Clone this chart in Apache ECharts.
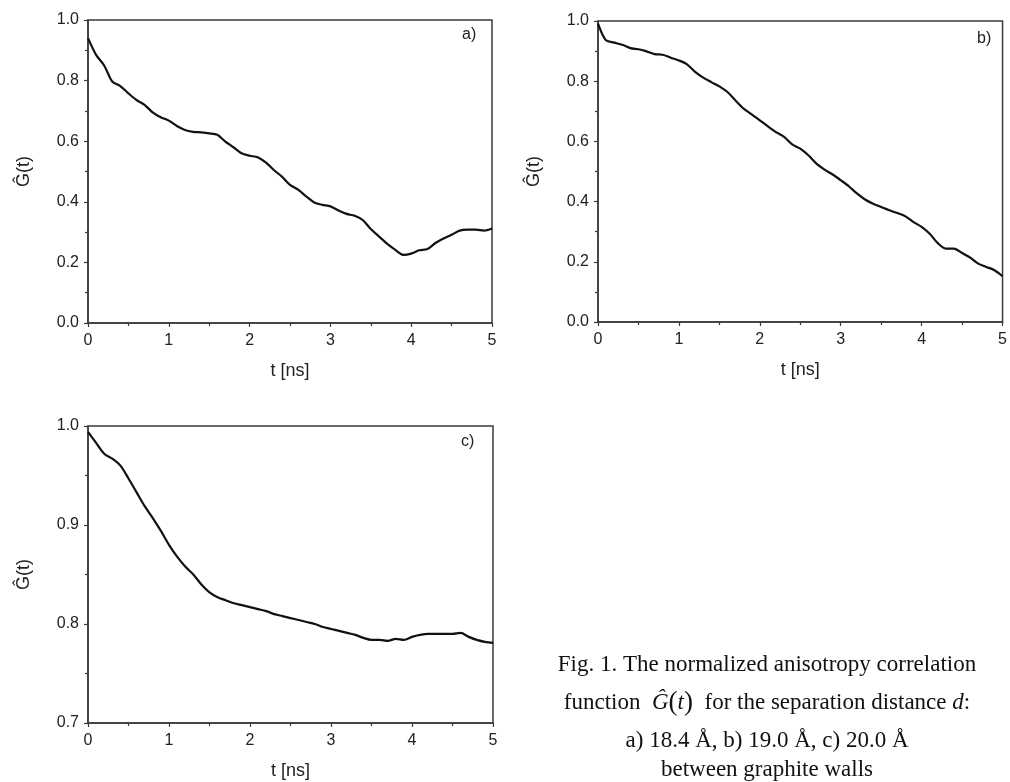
<!DOCTYPE html>
<html>
<head>
<meta charset="utf-8">
<script src="https://cdn.jsdelivr.net/npm/echarts@6/dist/echarts.min.js"></script>
<style>
  html, body { margin: 0; padding: 0; background: #fff; }
  #chart { width: 1010px; height: 782px; }
</style>
</head>
<body>
<div id="chart"></div>
<script>
// time grid in ns
const tA = [0, 0.1, 0.2, 0.3, 0.4, 0.5, 0.6, 0.7, 0.8, 0.9, 1.0, 1.1, 1.2, 1.3, 1.4, 1.5, 1.6, 1.7, 1.8, 1.9, 2.0,
  2.1, 2.2, 2.3, 2.4, 2.5, 2.6, 2.7, 2.8, 2.9, 3.0, 3.1, 3.2, 3.3, 3.4, 3.5, 3.6, 3.7, 3.8, 3.9, 4.0,
  4.1, 4.2, 4.3, 4.4, 4.5, 4.6, 4.7, 4.8, 4.9, 5.0]
const tB = [0, 0.05, 0.1, 0.2, 0.3, 0.4, 0.5, 0.6, 0.7, 0.8, 0.9, 1.0, 1.1, 1.2, 1.3, 1.4, 1.5, 1.6, 1.7, 1.8, 1.9, 2.0,
  2.1, 2.2, 2.3, 2.4, 2.5, 2.6, 2.7, 2.8, 2.9, 3.0, 3.1, 3.2, 3.3, 3.4, 3.5, 3.6, 3.7, 3.8, 3.9, 4.0,
  4.1, 4.2, 4.3, 4.4, 4.5, 4.6, 4.7, 4.8, 4.9, 5.0]

// a) d = 18.4 A
const gA = [0.940, 0.885, 0.850, 0.797, 0.782, 0.758, 0.736, 0.720, 0.695, 0.679, 0.668,
  0.650, 0.637, 0.631, 0.629, 0.626, 0.621, 0.599, 0.580, 0.560, 0.552,
  0.547, 0.530, 0.505, 0.483, 0.456, 0.440, 0.418, 0.398, 0.390, 0.385,
  0.371, 0.360, 0.354, 0.340, 0.310, 0.286, 0.262, 0.242, 0.225, 0.229,
  0.240, 0.244, 0.264, 0.279, 0.291, 0.305, 0.308, 0.308, 0.305, 0.312]

// b) d = 19.0 A
const gB = [0.991, 0.958, 0.936, 0.928, 0.921, 0.910, 0.906, 0.899, 0.890, 0.888, 0.878, 0.869,
  0.856, 0.831, 0.812, 0.797, 0.783, 0.764, 0.736, 0.709, 0.690, 0.670,
  0.650, 0.631, 0.615, 0.590, 0.576, 0.554, 0.526, 0.506, 0.490, 0.471,
  0.451, 0.427, 0.407, 0.393, 0.382, 0.371, 0.362, 0.351, 0.332, 0.316,
  0.293, 0.262, 0.244, 0.244, 0.229, 0.214, 0.194, 0.183, 0.172, 0.152]

// c) d = 20.0 A
const gC = [0.994, 0.983, 0.972, 0.967, 0.960, 0.947, 0.933, 0.919, 0.907, 0.894, 0.880,
  0.868, 0.858, 0.850, 0.840, 0.832, 0.827, 0.824, 0.821, 0.819, 0.817,
  0.815, 0.813, 0.810, 0.808, 0.806, 0.804, 0.802, 0.800, 0.797, 0.795,
  0.793, 0.791, 0.789, 0.786, 0.784, 0.784, 0.783, 0.785, 0.784, 0.787,
  0.789, 0.790, 0.790, 0.790, 0.790, 0.791, 0.787, 0.784, 0.782, 0.781]

const panelLabels = ['a)', 'b)', 'c)']
const yTitle = 'Ĝ(t)'
const xTitle = 't [ns]'

const chart = echarts.init(document.getElementById('chart'))

const axisColor = '#3a3a3a'
const sans = 'Liberation Sans, Arial, sans-serif'
const labelFont = { fontFamily: sans, fontSize: 16, color: '#222' }
const titleFont = { fontFamily: sans, fontSize: 18, color: '#222' }

function makeGrid(left, top, width, height) {
  return { left, top, width, height, show: true, borderColor: axisColor, borderWidth: 1.5, backgroundColor: 'transparent' }
}

function xAxisFor(idx) {
  return {
    type: 'value',
    gridIndex: idx,
    min: 0,
    max: 5,
    interval: 1,
    name: xTitle,
    nameLocation: 'middle',
    nameGap: 39,
    nameTextStyle: titleFont,
    axisLine: { show: true, onZero: false, lineStyle: { color: axisColor, width: 1.5 } },
    axisTick: { show: true, length: 4, lineStyle: { color: axisColor, width: 1.2 } },
    minorTick: { show: true, splitNumber: 2, length: 3, lineStyle: { color: axisColor, width: 1.2 } },
    axisLabel: { ...labelFont, margin: 10 },
    splitLine: { show: false },
  }
}

function yAxisFor(idx, min, max, interval) {
  return {
    type: 'value',
    gridIndex: idx,
    min,
    max,
    interval,
    name: yTitle,
    nameLocation: 'middle',
    nameRotate: 90,
    nameGap: 55,
    nameTextStyle: titleFont,
    axisLine: { show: true, onZero: false, lineStyle: { color: axisColor, width: 1.5 } },
    axisTick: { show: true, length: 4, lineStyle: { color: axisColor, width: 1.2 } },
    minorTick: { show: true, splitNumber: 2, length: 3, lineStyle: { color: axisColor, width: 1.2 } },
    axisLabel: { ...labelFont, margin: 9, formatter: (v) => v.toFixed(1) },
    splitLine: { show: false },
  }
}

function lineSeries(idx, ts, gs) {
  return {
    type: 'line',
    xAxisIndex: idx,
    yAxisIndex: idx,
    data: ts.map((t, i) => [t, gs[i]]),
    showSymbol: false,
    smooth: 0.3,
    lineStyle: { color: '#111', width: 2.2 },
    clip: true,
  }
}

const serif = 'Liberation Serif, Times New Roman, serif'
const capStyle = { fontFamily: serif, fontSize: 23, fill: '#111', align: 'center', verticalAlign: 'middle' }

const option = {
  backgroundColor: '#fff',
  animation: false,
  grid: [
    makeGrid(88, 20, 404, 303),
    makeGrid(598, 21, 407, 301),
    makeGrid(88, 426, 405, 297),
  ],
  xAxis: [xAxisFor(0), xAxisFor(1), xAxisFor(2)],
  yAxis: [
    yAxisFor(0, 0, 1, 0.2),
    yAxisFor(1, 0, 1, 0.2),
    yAxisFor(2, 0.7, 1.0, 0.1),
  ],
  series: [
    lineSeries(0, tA, gA),
    lineSeries(1, tB, gB),
    lineSeries(2, tA, gC),
  ],
  graphic: [
    { type: 'text', left: 462, top: 27, style: { text: panelLabels[0], font: '16px ' + sans, fill: '#222' } },
    { type: 'text', left: 977, top: 31, style: { text: panelLabels[1], font: '16px ' + sans, fill: '#222' } },
    { type: 'text', left: 461, top: 434, style: { text: panelLabels[2], font: '16px ' + sans, fill: '#222' } },
    {
      type: 'text', x: 767, y: 665,
      style: { text: 'Fig. 1. The normalized anisotropy correlation', ...capStyle },
    },
    {
      type: 'text', x: 767, y: 703,
      style: {
        text: 'function  {i|Ĝ}{p|(}{i|t}{p|)}  for the separation distance {i|d}:',
        ...capStyle,
        rich: {
          i: { fontFamily: serif, fontSize: 23, fontStyle: 'italic', fill: '#111' },
          p: { fontFamily: serif, fontSize: 27, fill: '#111' },
        },
      },
    },
    {
      type: 'text', x: 767, y: 741,
      style: { text: 'a) 18.4 Å, b) 19.0 Å, c) 20.0 Å', ...capStyle },
    },
    {
      type: 'text', x: 767, y: 770,
      style: { text: 'between graphite walls', ...capStyle },
    },
  ],
}

chart.setOption(option)
</script>
</body>
</html>
